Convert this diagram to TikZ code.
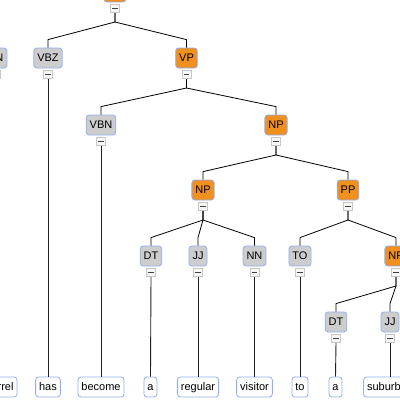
\documentclass[tikz,border=0pt]{standalone}
\usepackage{fontspec}
\setmainfont{Liberation Sans}
\usetikzlibrary{positioning}

\definecolor{bordblue}{HTML}{93AEF0}
\definecolor{taggray}{HTML}{CDCDCD}
\definecolor{phraseorange}{HTML}{F0901E}

\begin{document}
\begin{tikzpicture}[x=1pt,y=-1pt,semithick,
                    every node/.style={font=\fontsize{11}{13}\selectfont,
                                       text height=8pt,text depth=2pt}]
  \tikzstyle{tag}=[draw=bordblue,fill=taggray,rounded corners=3pt,line width=0.8pt,
                   minimum height=20pt,inner xsep=3.5pt,inner ysep=0pt]
  \tikzstyle{phrase}=[tag,fill=phraseorange]
  \tikzstyle{word}=[tag,fill=white]
  \tikzstyle{fold}=[draw=gray!45,fill=gray!6,line width=0.6pt,minimum width=9pt,
                    minimum height=8pt,inner sep=0pt,text height=0pt,text depth=0pt,
                    path picture={\draw[line width=1.4pt,black!75]
                      ([xshift=-2.7pt]path picture bounding box.center) --
                      ([xshift=2.7pt]path picture bounding box.center);}]
  \tikzstyle{branch}=[draw=black,line width=0.8pt,
                      to path={-- ++(0,-9pt) -- ([yshift=8pt]\tikztotarget) -- (\tikztotarget)}]
  \tikzstyle{stem}=[draw=gray!25!black,line width=0.9pt]

  \useasboundingbox (0,0) rectangle (400,400);
  \clip (0,0) rectangle (400,400);

  % phrase and tag level
  \node[phrase,minimum width=22pt] (root) at (115,-8) {};
  \node[tag]    (nna)  at (-4.5,58)  {NN};
  \node[tag]    (vbz)  at (48,58)    {VBZ};
  \node[phrase] (vp)   at (186.5,58) {VP};
  \node[tag]    (vbn)  at (101,125)  {VBN};
  \node[phrase] (npa)  at (276,125)  {NP};
  \node[phrase] (npb)  at (203,190)  {NP};
  \node[phrase] (pp)   at (348,190)  {PP};
  \node[tag]    (dta)  at (151,256)  {DT};
  \node[tag]    (jja)  at (198,256)  {JJ};
  \node[tag]    (nn)   at (254.5,256) {NN};
  \node[tag]    (to)   at (300,256)  {TO};
  \node[phrase] (npc)  at (396,256)  {NP};
  \node[tag]    (dtb)  at (336,322)  {DT};
  \node[tag]    (jjb)  at (390,322)  {JJ};

  % collapse buttons
  \foreach \n in {root,nna,vbz,vp,vbn,npa,npb,pp,dta,jja,nn,to,npc,dtb,jjb}
    \node[fold,below=2pt of \n] (\n-m) {};

  % words
  \node[word] (squirrel) at (-4.5,387)  {squirrel};
  \node[word] (has)      at (48,387)    {has};
  \node[word] (become)   at (101,387)   {become};
  \node[word] (a1)       at (150.5,387) {a};
  \node[word] (regular)  at (198,387)   {regular};
  \node[word] (visitor)  at (254.5,387) {visitor};
  \node[word] (to1)      at (300,387)   {to};
  \node[word] (a2)       at (335.5,387) {a};
  \node[word] (suburban) at (390,387)   {suburban};

  \path (root-m.south) edge[branch] (vbz.north)
                       edge[branch] (vp.north)
        (vp-m.south)   edge[branch] (vbn.north)
                       edge[branch] (npa.north)
        (npa-m.south)  edge[branch] (npb.north)
                       edge[branch] (pp.north)
        (npb-m.south)  edge[branch] (dta.north)
                       edge[branch] (jja.north)
                       edge[branch] (nn.north)
        (pp-m.south)   edge[branch] (to.north)
                       edge[branch] (npc.north)
        (npc-m.south)  edge[branch] (dtb.north)
                       edge[branch] (jjb.north);

  \path (nna-m.south) edge[stem] (squirrel.north)
        (vbz-m.south) edge[stem] (has.north)
        (vbn-m.south) edge[stem] (become.north)
        (dta-m.south) edge[stem] (a1.north)
        (jja-m.south) edge[stem] (regular.north)
        (nn-m.south)  edge[stem] (visitor.north)
        (to-m.south)  edge[stem] (to1.north)
        (dtb-m.south) edge[stem] (a2.north)
        (jjb-m.south) edge[stem] (suburban.north);
\end{tikzpicture}
\end{document}
